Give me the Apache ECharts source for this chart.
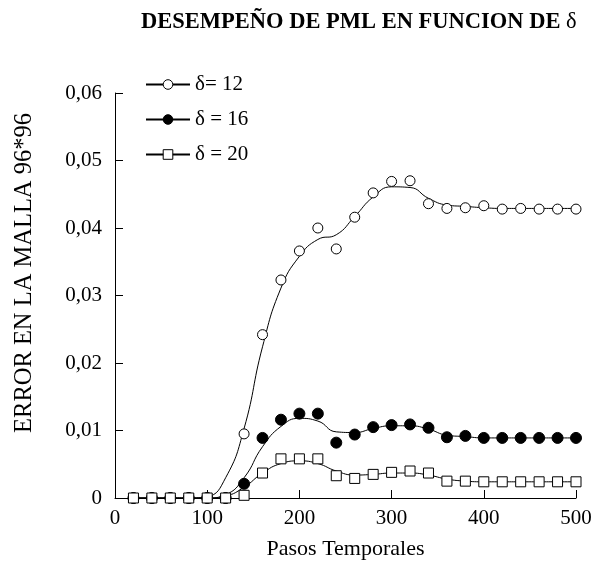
<!DOCTYPE html>
<html>
<head>
<meta charset="utf-8">
<script src="https://cdn.jsdelivr.net/npm/echarts@6/dist/echarts.min.js"></script>
<style>html,body{margin:0;padding:0;background:#fff}#c{width:595px;height:571px}</style>
</head>
<body>
<div id="c"></div>
<script>
var steps = [20,40,60,80,100,120,140,160,180,200,220,240,260,280,300,320,340,360,380,400,420,440,460,480,500];
var names = ['δ= 12', 'δ = 16', 'δ = 20'];
// measured points
var pts12 = [0,0,0,0,0,0,0.0095,0.0242,0.0323,0.0366,0.0400,0.0369,0.0416,0.0452,0.0469,0.0470,0.0436,0.0429,0.0430,0.0433,0.0428,0.0429,0.0428,0.0428,0.0428];
var pts16 = [0,0,0,0,0,0,0.0021,0.0089,0.0116,0.0125,0.0125,0.0082,0.0094,0.0105,0.0108,0.0109,0.0104,0.0090,0.0092,0.0089,0.0089,0.0089,0.0089,0.0089,0.0089];
var pts20 = [0,0,0,0,0,0,0.0004,0.0037,0.0058,0.0058,0.0058,0.0033,0.0029,0.0035,0.0038,0.0040,0.0037,0.0025,0.0025,0.0024,0.0024,0.0024,0.0024,0.0024,0.0024];
// fitted curves
var fit12 = [0,0,0,0,0.0002,0.0030,0.0103,0.0224,0.0311,0.0358,0.0383,0.0390,0.0417,0.0446,0.0461,0.0460,0.0444,0.0434,0.0432,0.0430,0.0429,0.0429,0.0429,0.0429,0.0429];
var fit16 = [0,0,0,0,0,0.0005,0.0030,0.0076,0.0106,0.0118,0.0114,0.0098,0.0097,0.0103,0.0107,0.0107,0.0102,0.0093,0.0091,0.0089,0.0089,0.0089,0.0089,0.0089,0.0089];
var fit20 = [0,0,0,0,0,0.0003,0.0016,0.0037,0.0051,0.0055,0.0051,0.0040,0.0034,0.0035,0.0037,0.0037,0.0034,0.0028,0.0025,0.0024,0.0024,0.0024,0.0024,0.0024,0.0024];
var xTicks = [0,100,200,300,400,500];
var yTicks = [0,0.01,0.02,0.03,0.04,0.05,0.06];

var FONT = '"Liberation Serif", "Times New Roman", serif';
function pairs(arr){ return steps.map(function(s,i){ return [s, arr[i]]; }); }
var shapes = ['circle','circle','rect'];
var fills = ['#fff','#000','#fff'];
var fits = [fit12, fit16, fit20];
var ptsAll = [pts12, pts16, pts20];

var series = [];
for (var k = 0; k < 3; k++) {
  series.push({
    name: names[k], type: 'line', smooth: 0.5, data: pairs(fits[k]),
    symbol: shapes[k], showSymbol: false, symbolSize: 10,
    lineStyle: {color: '#000', width: 1},
    itemStyle: {color: '#000'},
    z: 2, silent: true, animation: false
  });
}
for (var k = 0; k < 3; k++) {
  series.push({
    name: names[k] + ' pts', type: 'scatter', data: pairs(ptsAll[k]),
    symbol: shapes[k], symbolSize: k === 1 ? 11 : 10,
    itemStyle: {color: fills[k], borderColor: '#000', borderWidth: 1, opacity: 1},
    z: 3, silent: true, animation: false
  });
}

var chart = echarts.init(document.getElementById('c'), null, {renderer: 'canvas'});
chart.setOption({
  backgroundColor: '#fff',
  animation: false,
  title: {
    text: '{b|DESEMPEÑO DE PML EN FUNCION DE }{d|δ}',
    left: 136, top: 6,
    textStyle: {
      rich: {
        b: {fontFamily: FONT, fontWeight: 'bold', fontSize: 22.5, color: '#000'},
        d: {fontFamily: FONT, fontWeight: 'normal', fontSize: 22.5, color: '#000'}
      }
    }
  },
  legend: {
    orient: 'vertical', left: 140, top: 69,
    itemWidth: 44, itemHeight: 12, itemGap: 14,
    data: names.map(function(n, i){ return {name: n, itemStyle: {color: fills[i], borderColor: '#000', borderWidth: 1}}; }),
    textStyle: {fontFamily: FONT, fontSize: 21, color: '#000'},
    selectedMode: false
  },
  grid: {left: 115, right: 19, top: 93, bottom: 73, containLabel: false},
  xAxis: {
    type: 'value', min: 0, max: 500, interval: 100,
    name: 'Pasos Temporales', nameLocation: 'middle', nameGap: 40,
    nameTextStyle: {fontFamily: FONT, fontSize: 22, color: '#000'},
    axisLine: {show: true, lineStyle: {color: '#000', width: 1}},
    axisTick: {show: true, inside: true, length: 8, lineStyle: {color: '#000'}},
    axisLabel: {fontFamily: FONT, fontSize: 21, color: '#000', margin: 10,
      customValues: xTicks},
    splitLine: {show: false}
  },
  yAxis: {
    type: 'value', min: 0, max: 0.06, interval: 0.01,
    name: 'ERROR EN LA MALLA 96*96', nameLocation: 'middle', nameGap: 78,
    nameTextStyle: {fontFamily: FONT, fontSize: 24.5, color: '#000', padding: [0,0,0,45]},
    axisLine: {show: true, lineStyle: {color: '#000', width: 1}},
    axisTick: {show: true, inside: true, length: 8, lineStyle: {color: '#000'}},
    axisLabel: {fontFamily: FONT, fontSize: 21, color: '#000', margin: 13,
      customValues: yTicks,
      formatter: function(v){ return v === 0 ? '0' : v.toFixed(2).replace('.', ','); }},
    splitLine: {show: false}
  },
  series: series
});
</script>
</body>
</html>
